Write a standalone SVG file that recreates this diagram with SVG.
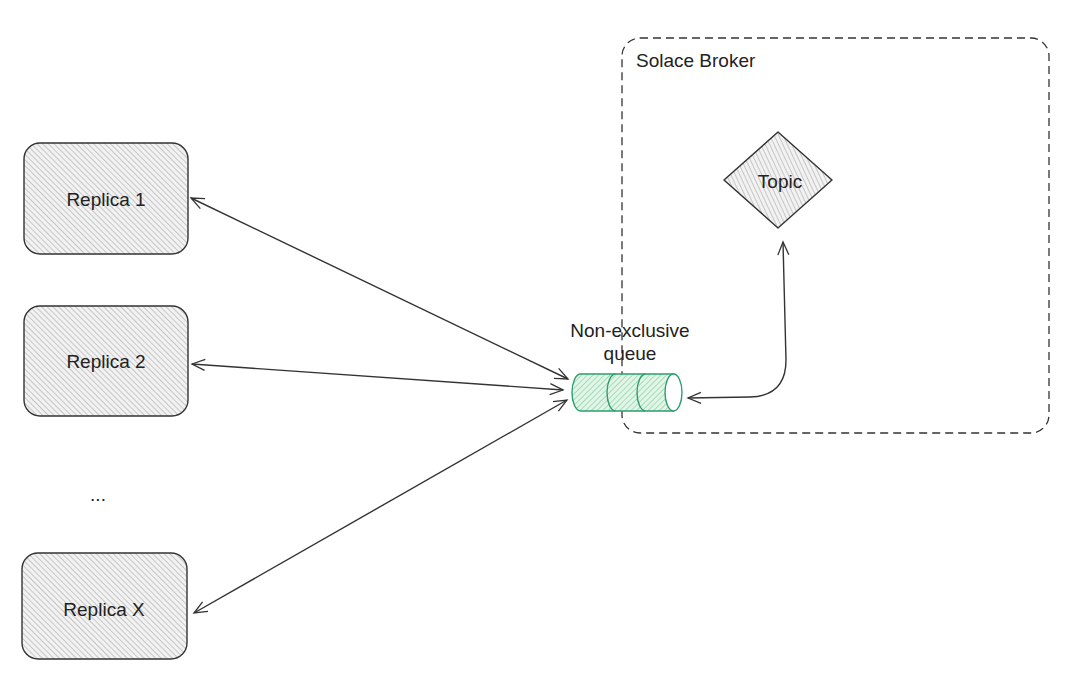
<svg xmlns="http://www.w3.org/2000/svg" width="1084" height="674" viewBox="0 0 1084 674">
<defs>
<pattern id="hatchGray" patternUnits="userSpaceOnUse" width="4" height="4" patternTransform="rotate(-45)">
<rect width="4" height="4" fill="#f2f2f2"/>
<line x1="0" y1="0" x2="0" y2="4" stroke="#b4b4b4" stroke-width="1.4"/>
</pattern>
<pattern id="hatchTopic" patternUnits="userSpaceOnUse" width="4" height="4" patternTransform="rotate(-25)">
<rect width="4" height="4" fill="#f2f2f2"/>
<line x1="0" y1="0" x2="0" y2="4" stroke="#b4b4b4" stroke-width="1.4"/>
</pattern>
<pattern id="hatchGreen" patternUnits="userSpaceOnUse" width="4" height="4" patternTransform="rotate(45)">
<rect width="4" height="4" fill="#e3f5e8"/>
<line x1="0" y1="0" x2="0" y2="4" stroke="#8fd8a6" stroke-width="1.6"/>
</pattern>
<marker id="arr" viewBox="-14 -8 16 16" refX="0" refY="0" markerWidth="16" markerHeight="16" markerUnits="userSpaceOnUse" orient="auto-start-reverse">
<path d="M-13,-5.5 L0,0 L-13,5.5" fill="none" stroke="#333" stroke-width="1.3"/>
</marker>
</defs>
<style>
.node{stroke:#333;stroke-width:1.4;fill:url(#hatchGray)}
.lbl{font-family:"Liberation Sans",Arial,sans-serif;font-size:19px;fill:#222}
.edge{fill:none;stroke:#333;stroke-width:1.4;marker-start:url(#arr);marker-end:url(#arr)}
.q{stroke:#2e9e6e;stroke-width:1.4}
</style>
<rect width="1084" height="674" fill="#ffffff"/>

<g id="broker">
<rect x="622" y="38" width="427" height="395" rx="18" fill="none" stroke="#333" stroke-width="1.3" stroke-dasharray="8 5"/>
<text class="lbl" x="636" y="67">Solace Broker</text>
</g>

<g id="replica1">
<rect class="node" x="24" y="143" width="164" height="111" rx="16"/>
<text class="lbl" x="106" y="206" text-anchor="middle">Replica 1</text>
</g>

<g id="replica2">
<rect class="node" x="24" y="306" width="164" height="110" rx="16"/>
<text class="lbl" x="106" y="368" text-anchor="middle">Replica 2</text>
</g>

<g id="dots">
<text class="lbl" x="98" y="501" text-anchor="middle">...</text>
</g>

<g id="replicaX">
<rect class="node" x="22" y="553" width="165" height="106" rx="16"/>
<text class="lbl" x="104" y="616" text-anchor="middle">Replica X</text>
</g>

<g id="topic">
<path d="M778,132 L832,180 L778,228 L724,180 Z" stroke="#333" stroke-width="1.4" stroke-linejoin="round" fill="url(#hatchTopic)"/>
<text class="lbl" x="780" y="188" text-anchor="middle">Topic</text>
</g>

<g id="queue">
<path class="q" d="M580.5,374 L673.5,374 L673.5,411 L580.5,411 A8.5,18.5 0 0 1 580.5,374 Z" fill="url(#hatchGreen)"/>
<path class="q" d="M615.5,374 A8.5,18.5 0 0 0 615.5,411" fill="none"/>
<path class="q" d="M645.5,374 A8.5,18.5 0 0 0 645.5,411" fill="none"/>
<ellipse class="q" cx="673.5" cy="392.5" rx="8.5" ry="18.5" fill="#ffffff"/>
<text class="lbl" x="630" y="337" text-anchor="middle">Non-exclusive</text>
<text class="lbl" x="630" y="360" text-anchor="middle">queue</text>
</g>

<g id="connectors">
<path class="edge" d="M191,198 L568,379"/>
<path class="edge" d="M192,364 L563,390"/>
<path class="edge" d="M194,613 L567,400"/>
<path class="edge" d="M688,398 L750,397 Q786,396 786,360 L783,242"/>
</g>
</svg>
